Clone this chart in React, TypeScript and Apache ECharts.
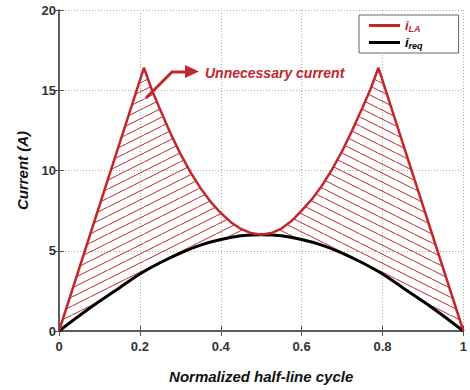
import React, { useEffect, useRef } from "react";
import * as echarts from "echarts";

// Normalized half-line cycle positions and current values (A)
const redX = [0, 0.21, 0.23, 0.25, 0.275, 0.3, 0.325, 0.35, 0.375, 0.4, 0.425, 0.45, 0.475, 0.5,
  0.525, 0.55, 0.575, 0.6, 0.625, 0.65, 0.675, 0.7, 0.725, 0.75, 0.77, 0.79, 1];
const redY = [0, 16.4, 15.0, 13.8, 12.35, 11.05, 9.9, 8.9, 8.05, 7.35, 6.78, 6.36, 6.1, 6.0,
  6.1, 6.38, 6.85, 7.5, 8.2, 9.05, 10.05, 11.2, 12.5, 13.9, 15.05, 16.4, 0];
const blackX = [0, 0.05, 0.1, 0.15, 0.2, 0.25, 0.3, 0.35, 0.4, 0.45, 0.5,
  0.55, 0.6, 0.65, 0.7, 0.75, 0.8, 0.85, 0.9, 0.95, 1];
const blackY = [0, 0.95, 1.85, 2.7, 3.55, 4.25, 4.85, 5.35, 5.7, 5.93, 6.0,
  5.93, 5.7, 5.35, 4.85, 4.25, 3.55, 2.7, 1.85, 0.95, 0];
const seriesNames = ["iLA", "ireq"];
const annotation = "Unnecessary current";
const xName = "Normalized half-line cycle";
const yName = "Current (A)";

const RED = "#c1272d";
const FONT = "Arial, 'Liberation Sans', sans-serif";

const hatchSvg = (dir: "up" | "down") => {
  const d = dir === "up"
    ? "M-18,9 L0,0 M0,9 L18,0 M18,9 L36,0"
    : "M-18,0 L0,9 M0,0 L18,9 M18,0 L36,9";
  const svg = `<svg xmlns='http://www.w3.org/2000/svg' width='18' height='9'><path d='${d}' stroke='#c53a44' stroke-width='1.1' fill='none'/></svg>`;
  return "data:image/svg+xml;charset=utf-8," + encodeURIComponent(svg);
};

export default function App() {
  const ref = useRef<HTMLDivElement>(null);
  useEffect(() => {
    if (!ref.current) return;
    const chart = echarts.init(ref.current, null, { renderer: "svg" });
    const patUp = { image: hatchSvg("up"), repeat: "repeat", imageWidth: 18, imageHeight: 9 };
    const patDown = { image: hatchSvg("down"), repeat: "repeat", imageWidth: 18, imageHeight: 9 };
    const axisLine = { show: true, lineStyle: { color: "#555", width: 1.5 } };
    const tick = { show: true, inside: true, length: 5, lineStyle: { color: "#555", width: 1 } };
    const split = { show: true, lineStyle: { color: "#aaa", type: [1, 2] as any, width: 1 } };
    const labelStyle = { fontFamily: FONT, fontWeight: "bold", fontSize: 13, color: "#333" };
    chart.setOption({
      animation: false,
      grid: { left: 59, right: 3, top: 10, bottom: 59 },
      legend: {
        orient: "vertical",
        left: 359,
        top: 15,
        padding: [4, 36, 3, 10],
        itemGap: 3,
        itemWidth: 31,
        itemHeight: 3,
        icon: "rect",
        borderColor: "#666",
        borderWidth: 1,
        backgroundColor: "#fff",
        borderRadius: 0,
        formatter: (name: string) =>
          name === "iLA" ? "{ri|i}{rs|LA}" : "{bi|i}{bs|req}",
        textStyle: {
          rich: {
            ri: { color: RED, fontFamily: FONT, fontWeight: "bold", fontStyle: "italic", fontSize: 13 },
            rs: { color: RED, fontFamily: FONT, fontWeight: "bold", fontStyle: "italic", fontSize: 9, padding: [6, 0, 0, 0] },
            bi: { color: "#000", fontFamily: FONT, fontWeight: "bold", fontStyle: "italic", fontSize: 13 },
            bs: { color: "#000", fontFamily: FONT, fontWeight: "bold", fontStyle: "italic", fontSize: 9, padding: [6, 0, 0, 0] },
          },
        },
        data: seriesNames,
      },
      xAxis: [
        {
          type: "value", min: 0, max: 1, interval: 0.2, position: "bottom",
          name: xName, nameLocation: "middle", nameGap: 38,
          nameTextStyle: { fontFamily: FONT, fontWeight: "bold", fontStyle: "italic", fontSize: 15, color: "#111" },
          axisLine, axisTick: tick, splitLine: split,
          axisLabel: { ...labelStyle, margin: 9 },
        },
        {
          type: "value", min: 0, max: 1, interval: 0.2, position: "top",
          axisLine, axisTick: tick, splitLine: { show: false }, axisLabel: { show: false },
        },
      ],
      yAxis: [
        {
          type: "value", min: 0, max: 20, interval: 5, position: "left",
          name: yName, nameLocation: "middle", nameGap: 29,
          nameTextStyle: { fontFamily: FONT, fontWeight: "bold", fontStyle: "italic", fontSize: 15, color: "#111" },
          axisLine, axisTick: tick, splitLine: split,
          axisLabel: { ...labelStyle, margin: 3 },
        },
        {
          type: "value", min: 0, max: 20, interval: 5, position: "right",
          axisLine, axisTick: tick, splitLine: { show: false }, axisLabel: { show: false },
        },
      ],
      series: [
        {
          type: "custom",
          name: "hatch",
          z: 1,
          silent: true,
          data: [[0.25, 0], [0.75, 0]],
          renderItem: (params: any, api: any) => {
            const left = params.dataIndex === 0;
            const inside = (x: number) => (left ? x <= 0.5 : x >= 0.5);
            const top: number[][] = [];
            redX.forEach((x, i) => { if (inside(x)) top.push(api.coord([x, redY[i]])); });
            const bottom: number[][] = [];
            blackX.forEach((x, i) => { if (inside(x)) bottom.push(api.coord([x, blackY[i]])); });
            bottom.reverse();
            return {
              type: "polygon",
              shape: { points: [...top, ...bottom] },
              style: { fill: left ? patUp : patDown, stroke: null },
            };
          },
        },
        {
          type: "line",
          name: seriesNames[1],
          z: 3,
          symbol: "none",
          smooth: 0.3,
          itemStyle: { color: "#000" },
          lineStyle: { color: "#000", width: 3 },
          data: blackX.map((x, i) => [x, blackY[i]]),
        },
        {
          type: "line",
          name: seriesNames[0],
          z: 4,
          symbol: "none",
          itemStyle: { color: RED },
          lineStyle: { color: RED, width: 2.5 },
          data: redX.map((x, i) => [x, redY[i]]),
        },
      ],
      graphic: [
        {
          type: "polyline",
          z: 100,
          shape: { points: [[146, 98], [172, 72], [186, 72]] },
          style: { stroke: RED, lineWidth: 3, fill: null },
        },
        {
          type: "polygon",
          z: 100,
          shape: { points: [[185, 65], [199, 71.5], [185, 78]] },
          style: { fill: RED },
        },
        {
          type: "text",
          z: 100,
          x: 205,
          y: 73,
          style: {
            text: annotation,
            fill: RED,
            font: `italic bold 14px ${FONT}`,
            verticalAlign: "middle",
          },
        },
      ],
    });
    return () => chart.dispose();
  }, []);
  return <div ref={ref} style={{ width: 470, height: 390, position: "absolute", left: 0, top: 0 }} />;
}
